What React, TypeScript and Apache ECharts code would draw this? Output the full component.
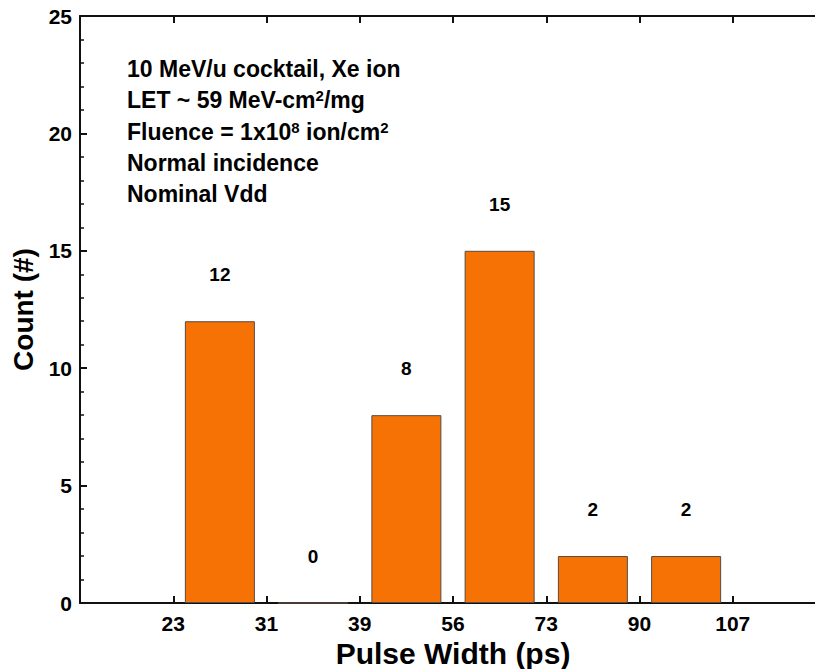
import React, { useEffect, useRef } from "react";
import * as echarts from "echarts";

const binEdges = ["23", "31", "39", "56", "73", "90", "107"];
const counts = [12, 0, 8, 15, 2, 2];
const yTicks = [0, 5, 10, 15, 20, 25];
const annotation = [
  "{n|10 MeV/u cocktail, Xe ion}",
  "{n|LET ~ 59 MeV-cm}{s|2}{n|/mg}",
  "{n|Fluence = 1x10}{s|8}{n| ion/cm}{s|2}",
  "{n|Normal incidence}",
  "{n|Nominal Vdd}",
];

const FONT = "Liberation Sans, Arial, Helvetica, sans-serif";
const ORANGE = "#f77205";
const INK = "#111";

const mkLine = () => ({ show: true, onZero: false, lineStyle: { color: INK, width: 2 } });
const mkTick = () => ({ show: true, inside: true, length: 7, lineStyle: { color: INK, width: 2 } });

export default function App() {
  const ref = useRef<HTMLDivElement>(null);
  useEffect(() => {
    if (!ref.current) return;
    const chart = echarts.init(ref.current, undefined, { renderer: "svg" });
    // bin i spans edge i (axis index i+1) to edge i+1 (axis index i+2)
    const barData = counts.map((c, i) => [i + 1.5, c]);
    const option: any = {
      animation: false,
      backgroundColor: "#fff",
      grid: { left: 80, top: 16, width: 746, height: 587, containLabel: false, outerBoundsMode: "none" },
      xAxis: [
        {
          type: "value", position: "bottom", min: 0, max: binEdges.length + 1, interval: 1,
          name: "Pulse Width (ps)", nameLocation: "middle", nameGap: 33,
          nameTextStyle: { fontFamily: FONT, fontWeight: "bold", fontSize: 30, color: "#000" },
          axisLine: mkLine(), axisTick: mkTick(),
          axisLabel: {
            margin: 10, fontFamily: FONT, fontWeight: "bold", fontSize: 21, color: "#000",
            showMinLabel: false, showMaxLabel: false,
            formatter: (v: number) => { const idx = Math.round(v) - 1; return idx >= 0 && idx < binEdges.length ? binEdges[idx] : ""; },
          },
          splitLine: { show: false },
        },
        {
          type: "value", position: "top", min: 0, max: binEdges.length + 1, interval: 1,
          axisLine: mkLine(), axisTick: mkTick(), axisLabel: { show: false }, splitLine: { show: false },
        },
      ],
      yAxis: {
        type: "value", position: "left", min: yTicks[0], max: yTicks[yTicks.length - 1], interval: 5,
        name: "Count (#)", nameLocation: "middle", nameGap: 36,
        nameTextStyle: { fontFamily: FONT, fontWeight: "bold", fontSize: 28, color: "#000" },
        axisLine: mkLine(), axisTick: mkTick(),
        minorTick: { show: true, splitNumber: 5, length: 4, lineStyle: { color: INK, width: 1.5 } },
        axisLabel: { margin: 8, fontFamily: FONT, fontWeight: "bold", fontSize: 21, color: "#000" },
        splitLine: { show: false },
      },
      series: [
        {
          type: "bar", xAxisIndex: 0, data: barData, barWidth: 70,
          itemStyle: { color: ORANGE, borderColor: "#5a4a40", borderWidth: 1 },
          label: { show: true, position: "top", distance: 37, fontFamily: FONT, fontWeight: "bold", fontSize: 19, color: "#000",
            formatter: (p: any) => String(p.value[1]) },
        },
      ],
      graphic: annotation.map((t, i) => ({
        type: "text", x: 127, y: 69 + i * 31.3,
        style: {
          text: t, verticalAlign: "middle",
          rich: {
            n: { fontFamily: FONT, fontWeight: "bold", fontSize: 23, fill: "#000", lineHeight: 24 },
            s: { fontFamily: FONT, fontWeight: "bold", fontSize: 15, fill: "#000", verticalAlign: "top", lineHeight: 24 },
          },
        },
      })),
    };
    chart.setOption(option);
    return () => chart.dispose();
  }, []);
  return <div ref={ref} style={{ position: "fixed", left: 0, top: 0, width: 815, height: 669, background: "#fff" }} />;
}
